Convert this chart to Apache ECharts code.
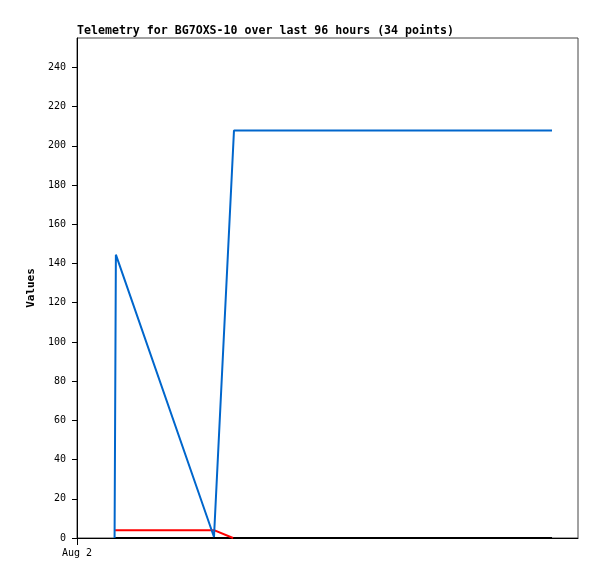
<!DOCTYPE html>
<html><head><meta charset="utf-8">
<script src="https://cdn.jsdelivr.net/npm/echarts@6/dist/echarts.min.js"></script>
<style>html,body{margin:0;padding:0;background:#fff}#c{width:597px;height:579px}</style>
</head><body><div id="c"></div>
<script>
// hours since Aug 2 00:00
const blueHours = [7.2, 7.45, 26.25, 26.45, 30.08, 91.02];
const blueValues = [0, 144.5, 0.5, 0.5, 207.8, 207.8];
const redHours = [7.3, 26.25, 29.9];
const redValues = [4, 4, 0];
const blackHours = [7.3, 91.02];
const blackValues = [0, 0];
const yTicks = [0, 20, 40, 60, 80, 100, 120, 140, 160, 180, 200, 220, 240];
const xTicks = [0];
const xTickLabels = ['Aug 2'];

const pair = (xs, ys) => xs.map((x, i) => [x, ys[i]]);
const mono = 'DejaVu Sans Mono';
const chart = echarts.init(document.getElementById('c'));
chart.setOption({
  animation: false,
  backgroundColor: '#fff',
  title: {
    text: 'Telemetry for BG7OXS-10 over last 96 hours (34 points)',
    left: 77, top: 25, padding: 0,
    textStyle: { fontFamily: mono, fontSize: 11.6, fontWeight: 'bold', color: '#000' }
  },
  grid: { left: 77, right: 19, top: 38, bottom: 41, show: true, borderColor: '#444', borderWidth: 1 },
  xAxis: {
    type: 'value', min: 0, max: 96,
    axisLine: { show: true, lineStyle: { color: '#000', width: 1 } },
    axisTick: { show: true, customValues: xTicks, length: 7, lineStyle: { color: '#000' } },
    axisLabel: { customValues: xTicks, formatter: v => xTickLabels[xTicks.indexOf(v)] || '',
      fontFamily: mono, fontSize: 10, color: '#000', margin: 10 },
    splitLine: { show: false }
  },
  yAxis: {
    type: 'value', min: 0, max: 255,
    name: 'Values', nameLocation: 'middle', nameGap: 40, nameRotate: 90,
    nameTextStyle: { fontFamily: mono, fontSize: 11, fontWeight: 'bold', color: '#000' },
    axisLine: { show: true, lineStyle: { color: '#000', width: 1 } },
    axisTick: { show: true, customValues: yTicks, length: 5, lineStyle: { color: '#000' } },
    axisLabel: { customValues: yTicks, fontFamily: mono, fontSize: 10, color: '#000', margin: 11 },
    splitLine: { show: false }
  },
  series: [
    { type: 'line', data: pair(blackHours, blackValues), showSymbol: false, lineStyle: { color: '#000', width: 2 }, z: 3 },
    { type: 'line', data: pair(redHours, redValues), showSymbol: false, lineStyle: { color: '#ff0000', width: 2 }, z: 4 },
    { type: 'line', data: pair(blueHours, blueValues), showSymbol: false, lineStyle: { color: '#0066cc', width: 2 }, z: 5 }
  ]
});
</script></body></html>
